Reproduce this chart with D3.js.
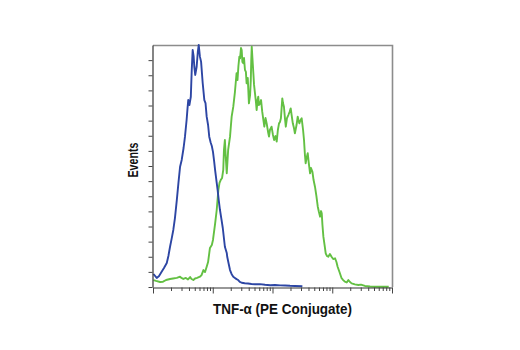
<!DOCTYPE html>
<html>
<head>
<meta charset="utf-8">
<script src="https://cdn.jsdelivr.net/npm/d3@7/dist/d3.min.js"></script>
<style>
  html, body { margin: 0; padding: 0; background: #fff; }
  svg { display: block; }
</style>
</head>
<body>
<svg id="chart" width="520" height="350"></svg>
<script>
// Histogram channels (0–1023 over four log decades) and event counts.
const isotypeChannels = [2, 16, 26, 37, 47, 59, 66, 73, 80, 87, 94, 102, 109, 116, 123, 131, 137, 144, 148, 151, 156, 162, 166, 170, 174, 177, 181, 187, 192, 196, 201, 206, 213, 220, 225, 230, 236, 241, 247, 252, 257, 262, 266, 273, 277, 282, 287, 293, 299, 308, 316, 318, 324, 330, 337, 344, 351, 358, 365, 372, 380, 393, 407, 422, 437, 458, 480, 502, 523, 545, 566, 587, 608, 640];
const isotypeCounts   = [8.6, 6.0, 7.3, 10.1, 12.6, 15.9, 20.5, 26.6, 32.0, 37.7, 45.6, 57.5, 68.8, 79.5, 84.0, 91.9, 99.4, 110.4, 118.3, 123.6, 120.3, 125.8, 143.5, 156.7, 152.7, 145.6, 140.2, 145.6, 155.4, 160, 152.3, 149.0, 134.7, 123.6, 121.6, 112.6, 107.1, 99.4, 95.5, 93.2, 89.3, 83.0, 77.4, 68.8, 64.1, 57.0, 50.9, 45.0, 39.0, 26.6, 22.5, 20.0, 15.5, 11.2, 8.5, 6.8, 6.0, 5.2, 4.6, 3.4, 2.8, 2.5, 2.3, 2.0, 1.8, 1.9, 1.5, 1.2, 1.3, 1.1, 1.0, 0.8, 0.7, 0.5];

const tnfChannels = [2, 13, 30, 43, 56, 73, 86, 102, 116, 122, 130, 141, 150, 159, 165, 173, 180, 189, 201, 208, 216, 223, 230, 236, 244, 252, 257, 266, 273, 280, 285, 290, 296, 301, 304, 308, 312, 316, 322, 330, 334, 337, 344, 351, 358, 362, 366, 370, 373, 377, 380, 383, 387, 390, 394, 398, 401, 406, 411, 416, 419, 421, 423, 426, 430, 433, 437, 441, 444, 448, 451, 454, 459, 463, 468, 473, 477, 482, 487, 493, 497, 501, 508, 514, 519, 525, 530, 535, 540, 544, 548, 554, 557, 561, 566, 569, 574, 580, 585, 590, 594, 599, 604, 608, 615, 620, 623, 627, 632, 637, 643, 647, 651, 654, 658, 663, 667, 673, 677, 683, 688, 694, 700, 706, 711, 716, 720, 723, 726, 730, 735, 740, 745, 751, 758, 765, 772, 780, 786, 791, 799, 808, 815, 822, 830, 837, 844, 851, 865, 880, 891, 908, 930, 951, 980, 1010];
const tnfCounts   = [4.6, 4.0, 3.3, 3.5, 4.6, 5.3, 5.6, 6.0, 6.8, 6.0, 5.3, 6.0, 5.0, 6.6, 5.3, 4.6, 5.6, 6.0, 6.8, 7.9, 11.2, 9.9, 13.4, 16.5, 25.8, 27.8, 31.1, 41.7, 50.9, 64.1, 68.8, 70.7, 72.1, 77.4, 90.6, 97.2, 85.3, 75.2, 90.6, 99.4, 107.1, 112.6, 119.2, 128.9, 141.3, 136.8, 146.1, 152.3, 151.2, 158.0, 156.7, 148.8, 147.9, 151.4, 143.5, 142.2, 134.7, 138.2, 121.4, 126.9, 136.8, 150.1, 158.9, 151.4, 141.3, 133.6, 128.0, 122.3, 117.0, 123.6, 125.8, 120.3, 121.4, 123.6, 115.9, 110.4, 106.0, 111.7, 108.2, 102.5, 99.4, 103.8, 106.0, 100.5, 97.2, 99.8, 96.1, 103.8, 108.2, 109.1, 111.5, 124.7, 121.6, 119.2, 110.4, 106.0, 111.7, 113.7, 115.7, 118.1, 113.7, 108.2, 105.1, 101.6, 107.1, 112.6, 110.4, 108.2, 110.4, 111.5, 103.8, 97.2, 87.3, 81.8, 85.3, 88.4, 82.6, 75.2, 78.7, 76.2, 70.7, 66.3, 60.2, 53.1, 49.6, 46.5, 50.2, 48.7, 41.0, 33.3, 27.8, 22.3, 20.5, 20.0, 21.8, 20.0, 18.5, 19.0, 16.5, 13.4, 9.9, 5.8, 4.6, 3.5, 3.0, 4.6, 3.3, 2.4, 1.7, 1.3, 1.6, 0.7, 0.3, 0.2, 0.2, 0.2];

const countTicks = [0, 10, 20, 30, 40, 50, 60, 70, 80, 90, 100, 110, 120, 130, 140, 150];
const xTitle = "TNF-α (PE Conjugate)";
const yTitle = "Events";

const plotLeft = 153, plotRight = 392, plotTop = 45, plotBottom = 287;
const svg = d3.select("#chart");

const x = d3.scaleLinear().domain([0, 1024]).range([plotLeft, plotRight]);
const xLog = d3.scaleLog().domain([1, 10000]).range([plotLeft, plotRight]);
const y = d3.scaleLinear().domain([0, 160]).range([plotBottom, plotTop]);

// frame: light top/right edges
svg.append("path")
  .attr("d", `M${plotLeft},${plotTop + 0.5}H${plotRight + 0.5}V${plotBottom}`)
  .attr("fill", "none")
  .attr("stroke", "#8c8c8c")
  .attr("stroke-width", 1.6);

// histograms
const line = d3.line().x(d => x(d[0])).y(d => y(d[1]));
const series = [
  { ch: tnfChannels, n: tnfCounts, color: "#63c043" },
  { ch: isotypeChannels, n: isotypeCounts, color: "#2d46a4" }
];
series.forEach(s => {
  svg.append("path")
    .datum(s.ch.map((c, i) => [c, s.n[i]]))
    .attr("d", line)
    .attr("fill", "none")
    .attr("stroke", s.color)
    .attr("stroke-width", 1.9)
    .attr("stroke-linejoin", "round");
});

// left axis with small outward ticks
const yAxis = svg.append("g")
  .attr("transform", `translate(${plotLeft - 0.5},0)`)
  .call(d3.axisLeft(y).tickValues(countTicks).tickSize(4).tickSizeOuter(0).tickFormat(""));
yAxis.select(".domain").attr("stroke", "#333").attr("stroke-width", 1.2);
yAxis.selectAll(".tick line").attr("stroke", "#444");

// bottom log axis: decades longer than intermediate ticks
const isDecade = d => Math.abs(Math.log10(d) - Math.round(Math.log10(d))) < 1e-9;
const xAxis = svg.append("g")
  .attr("transform", `translate(0,${plotBottom + 0.5})`)
  .call(d3.axisBottom(xLog).tickSizeOuter(0).tickFormat(""));
xAxis.select(".domain").attr("stroke", "#333").attr("stroke-width", 1.2);
xAxis.selectAll(".tick line")
  .attr("stroke", "#444")
  .attr("y2", d => isDecade(d) ? 6 : 3.5);

// titles
svg.append("text")
  .attr("x", 282.5).attr("y", 313.5)
  .attr("text-anchor", "middle")
  .attr("font-family", "Liberation Sans, Arial, sans-serif")
  .attr("font-weight", "bold")
  .attr("font-size", 15)
  .attr("textLength", 139)
  .attr("lengthAdjust", "spacingAndGlyphs")
  .attr("fill", "#111")
  .text(xTitle);

svg.append("text")
  .attr("transform", "translate(137.5,160) rotate(-90)")
  .attr("text-anchor", "middle")
  .attr("font-family", "Liberation Sans, Arial, sans-serif")
  .attr("font-weight", "bold")
  .attr("font-size", 15)
  .attr("textLength", 35)
  .attr("lengthAdjust", "spacingAndGlyphs")
  .attr("fill", "#111")
  .text(yTitle);
</script>
</body>
</html>
